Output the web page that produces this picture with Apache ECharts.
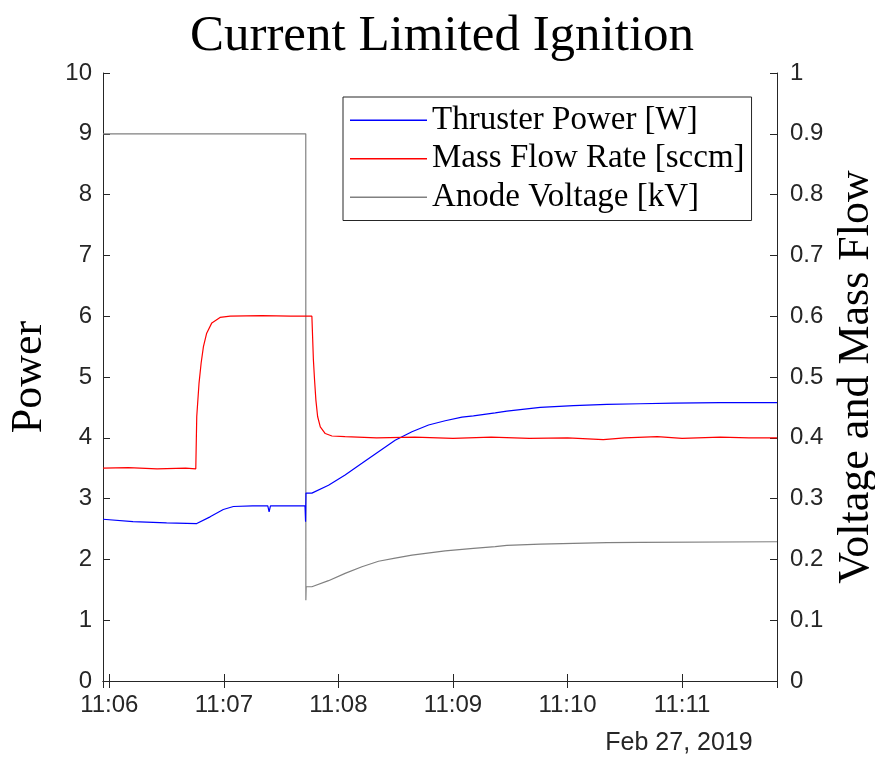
<!DOCTYPE html>
<html>
<head>
<meta charset="utf-8">
<script src="https://cdn.jsdelivr.net/npm/echarts@6/dist/echarts.min.js"></script>
<style>
  html, body { margin: 0; padding: 0; background: #fff; }
  #chart { width: 875px; height: 758px; }
</style>
</head>
<body>
<div id="chart"></div>
<script>
  // seconds after 11:06:00 on Feb 27, 2019
  var powerT = [-3.3, 12.4, 30, 45.8, 52.8, 59.7, 65.0, 75, 83.0, 83.7, 84.4, 102.5, 102.8, 103.0, 106.1, 114.8, 123.5, 132.3, 141.0, 149.7, 158.5, 167.2, 175.9, 184.7, 190.7, 202.1, 208.2, 225.7, 243.1, 260.6, 278.1, 295.5, 320, 349.7];
  var powerV = [2.66, 2.62, 2.60, 2.59, 2.70, 2.82, 2.87, 2.88, 2.88, 2.78, 2.88, 2.88, 2.62, 3.09, 3.09, 3.22, 3.39, 3.58, 3.77, 3.96, 4.10, 4.21, 4.28, 4.34, 4.36, 4.41, 4.44, 4.50, 4.53, 4.55, 4.56, 4.57, 4.58, 4.58];

  var flowT = [-3.3, 10, 25, 40, 45.3, 45.8, 47.0, 48.1, 49.3, 51.0, 53.7, 58.0, 63.3, 80, 95, 106.1, 106.9, 107.5, 108.2, 109.1, 110.5, 113.1, 116.6, 123.5, 140, 160, 180, 200, 220, 240, 258.7, 270, 287, 300, 320, 335, 349.7];
  var flowV = [0.350, 0.351, 0.349, 0.350, 0.349, 0.435, 0.490, 0.523, 0.550, 0.572, 0.589, 0.598, 0.600, 0.601, 0.600, 0.600, 0.528, 0.495, 0.462, 0.435, 0.418, 0.407, 0.403, 0.402, 0.400, 0.401, 0.399, 0.401, 0.399, 0.400, 0.397, 0.400, 0.402, 0.399, 0.401, 0.400, 0.400];

  var voltT = [-3.3, 102.9, 102.95, 103.1, 106.1, 114.8, 123.5, 132.3, 141.0, 149.7, 158.5, 175.9, 190.7, 202.1, 208.2, 225.7, 243.1, 260.6, 278.1, 349.7];
  var voltV = [0.9, 0.9, 0.133, 0.155, 0.155, 0.165, 0.177, 0.188, 0.197, 0.202, 0.207, 0.214, 0.218, 0.221, 0.223, 0.225, 0.2265, 0.2275, 0.228, 0.229];

  var seriesNames = ['Thruster Power [W]', 'Mass Flow Rate [sccm]', 'Anode Voltage [kV]'];

  var t0 = new Date(2019, 1, 27, 11, 6, 0).getTime();
  var xMin = t0 - 3.3 * 1000;
  var xMax = t0 + 349.7 * 1000;

  function pairs(ts, vs) {
    return ts.map(function (t, i) { return [t0 + t * 1000, vs[i]]; });
  }
  function pad(n) { return n < 10 ? '0' + n : '' + n; }

  var axisColor = '#262626';
  var sans = 'Liberation Sans, Arial, Helvetica, sans-serif';
  var serif = 'Liberation Serif, Times New Roman, serif';

  var myChart = echarts.init(document.getElementById('chart'));
  var option = {
    animation: false,
    backgroundColor: '#fff',
    title: [{
      text: 'Current Limited Ignition',
      left: 437,
      top: 6,
      textAlign: 'center',
      textStyle: { fontFamily: serif, fontSize: 51, fontWeight: 'normal', color: '#000' }
    }, {
      text: 'Feb 27, 2019',
      left: 679,
      top: 731,
      textAlign: 'center',
      padding: 0,
      textStyle: { fontFamily: sans, fontSize: 25, fontWeight: 'normal', color: axisColor }
    }],
    legend: {
      orient: 'vertical',
      left: 343,
      top: 97,
      padding: [4, 7, 4, 7],
      itemGap: 0,
      icon: 'rect',
      itemWidth: 77,
      itemHeight: 1.4,
      itemTextGap: 9,
      borderColor: axisColor,
      borderWidth: 1,
      data: seriesNames,
      textStyle: { fontFamily: serif, fontSize: 33, color: '#000', lineHeight: 38.5 }
    },
    grid: { left: 103, right: 98, top: 73, bottom: 77, containLabel: false, outerBoundsMode: 'none' },
    xAxis: [{
      type: 'time',
      min: xMin,
      max: xMax,
      minInterval: 60000,
      maxInterval: 60000,
      axisLine: { lineStyle: { color: axisColor, width: 1 } },
      axisTick: { inside: true, length: 7, lineStyle: { color: axisColor } },
      splitLine: { show: false },
      axisLabel: {
        margin: 12,
        color: axisColor,
        fontFamily: sans,
        fontSize: 24,
        formatter: function (v) {
          var d = new Date(v);
          return pad(d.getHours()) + ':' + pad(d.getMinutes());
        }
      }
    }, {
      type: 'time',
      position: 'top',
      min: xMin,
      max: xMax,
      minInterval: 60000,
      maxInterval: 60000,
      axisLine: { lineStyle: { color: axisColor, width: 1 } },
      axisTick: { inside: true, length: 7, lineStyle: { color: axisColor } },
      axisLabel: { show: false },
      splitLine: { show: false }
    }],
    yAxis: [{
      type: 'value',
      min: 0,
      max: 10,
      interval: 1,
      name: 'Power',
      nameLocation: 'middle',
      nameRotate: 90,
      nameGap: 52,
      nameTextStyle: { fontFamily: serif, fontSize: 44, color: '#000' },
      axisLine: { show: true, lineStyle: { color: axisColor, width: 1 } },
      axisTick: { show: true, inside: true, length: 7, lineStyle: { color: axisColor } },
      splitLine: { show: false },
      axisLabel: { margin: 11, color: axisColor, fontFamily: sans, fontSize: 24 }
    }, {
      type: 'value',
      position: 'right',
      min: 0,
      max: 1,
      interval: 0.1,
      name: 'Voltage and Mass Flow',
      nameLocation: 'middle',
      nameRotate: 90,
      nameGap: 57,
      nameTextStyle: { fontFamily: serif, fontSize: 44, color: '#000' },
      axisLine: { show: true, lineStyle: { color: axisColor, width: 1 } },
      axisTick: { show: true, inside: true, length: 7, lineStyle: { color: axisColor } },
      splitLine: { show: false },
      axisLabel: { margin: 13, color: axisColor, fontFamily: sans, fontSize: 24 }
    }],
    series: [{
      name: seriesNames[0],
      type: 'line',
      yAxisIndex: 0,
      symbol: 'none',
      z: 3,
      lineStyle: { color: '#0000ff', width: 1.2 },
      itemStyle: { color: '#0000ff' },
      data: pairs(powerT, powerV)
    }, {
      name: seriesNames[1],
      type: 'line',
      yAxisIndex: 1,
      symbol: 'none',
      z: 3,
      lineStyle: { color: '#ff0000', width: 1.2 },
      itemStyle: { color: '#ff0000' },
      data: pairs(flowT, flowV)
    }, {
      name: seriesNames[2],
      type: 'line',
      yAxisIndex: 1,
      symbol: 'none',
      z: 2,
      lineStyle: { color: '#808080', width: 1.2 },
      itemStyle: { color: '#808080' },
      data: pairs(voltT, voltV)
    }]
  };
  myChart.setOption(option);
  window.addEventListener('resize', function () {
    myChart.resize();
  });
</script>
</body>
</html>
